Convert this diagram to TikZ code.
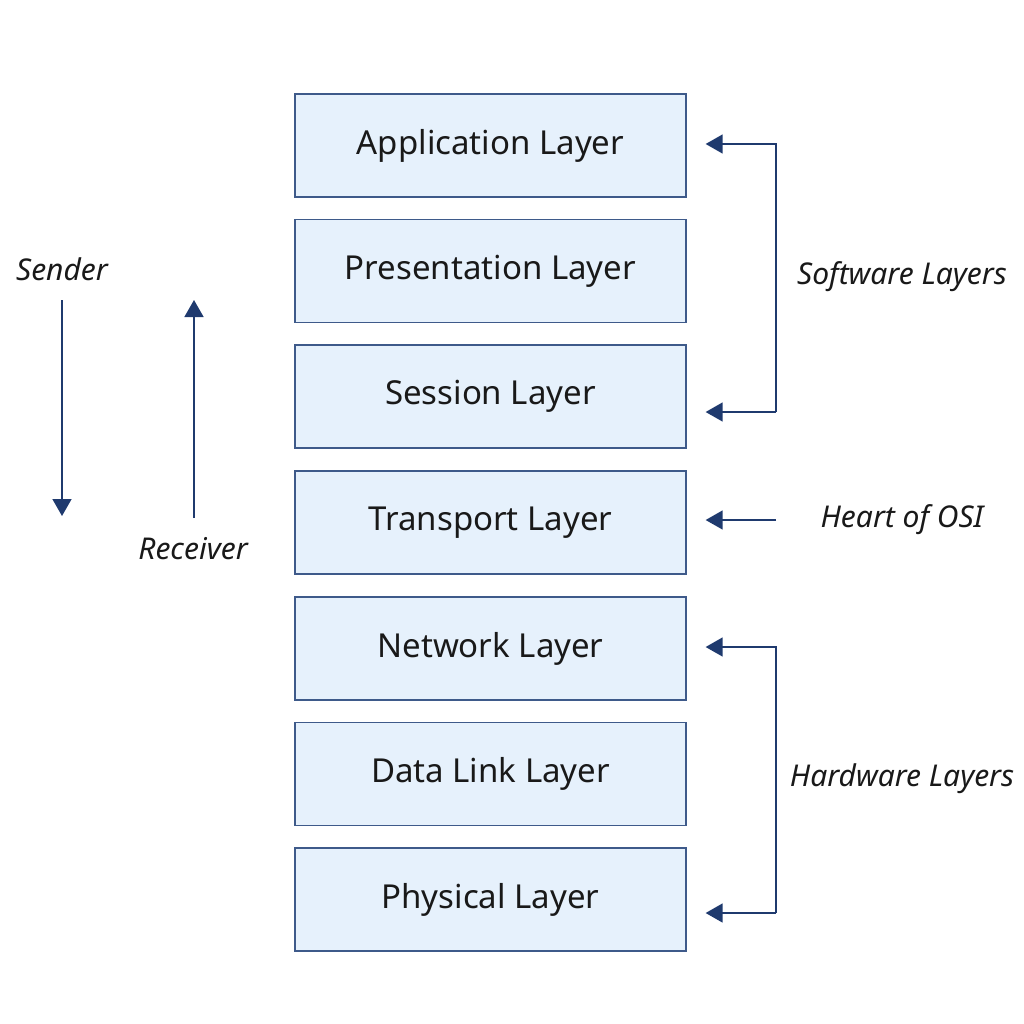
\documentclass[tikz,border=0pt]{standalone}
\usepackage{fontspec}
\setmainfont{Noto Sans}
\usetikzlibrary{arrows.meta}
\definecolor{boxfill}{HTML}{E6F1FC}
\definecolor{boxline}{HTML}{3E5A8A}
\definecolor{arr}{HTML}{1F3A6E}
\begin{document}
\begin{tikzpicture}[x=1pt,y=-1pt,
  layer/.style={draw=boxline,line width=1.3pt,fill=boxfill,minimum width=391pt,minimum height=103pt,inner sep=0pt,font=\fontsize{33}{38}\selectfont,text=black!90},
  lbl/.style={font=\fontsize{30}{35}\selectfont\itshape,text=black!90},
  conn/.style={draw=arr,line width=1.5pt,-{Triangle[length=17pt,width=19pt]}}]
\useasboundingbox (0,0) rectangle (1024,1024);
\node[layer] (app) at (490.5,145.5) {Application Layer};
\node[layer] (pre) at (490.5,271) {Presentation Layer};
\node[layer] (ses) at (490.5,396.5) {Session Layer};
\node[layer] (tra) at (490.5,522.5) {Transport Layer};
\node[layer] (net) at (490.5,648.5) {Network Layer};
\node[layer] (dat) at (490.5,774) {Data Link Layer};
\node[layer] (phy) at (490.5,899.5) {Physical Layer};
% left labels
\node[lbl] (snd) at (62,269) {Sender};
\node[lbl] (rcv) at (193,549) {Receiver};
\coordinate (s1) at (62,300);
\coordinate (s2) at (62,516);
\coordinate (r1) at (194,518);
\coordinate (r2) at (194,300);
\draw[conn] (s1) -- (s2);
\draw[conn] (r1) -- (r2);
% right
\node[lbl] (sw) at (902,277) {Software Layers};
\node[lbl] (hoi) at (902,520) {Heart of OSI};
\node[lbl] (hw) at (902,779) {Hardware Layers};
\coordinate (swt) at (776,144);
\coordinate (swb) at (776,412);
\coordinate (hwt) at (776,647);
\coordinate (hwb) at (776,913);
\coordinate (ht) at (776,520);
\draw[conn] (swb) -- ([xshift=19pt]ses.east |- swb);
\draw[conn] (swb) -- (swt) -- ([xshift=19pt]app.east |- swt);
\draw[conn] (ht) -- ([xshift=19pt]tra.east |- ht);
\draw[conn] (hwb) -- ([xshift=19pt]phy.east |- hwb);
\draw[conn] (hwb) -- (hwt) -- ([xshift=19pt]net.east |- hwt);
\end{tikzpicture}
\end{document}
